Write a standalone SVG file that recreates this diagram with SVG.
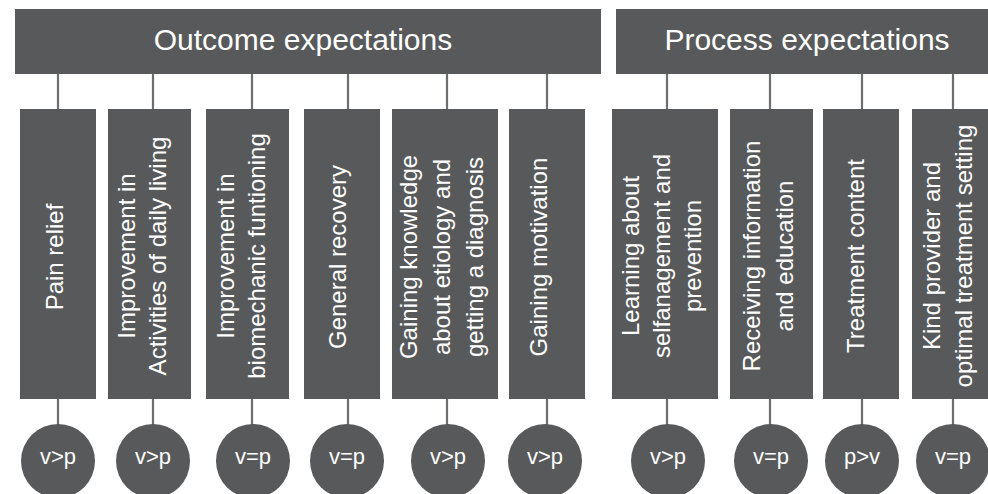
<svg xmlns="http://www.w3.org/2000/svg" width="988" height="494" viewBox="0 0 988 494">
<style>
.box{fill:#58595b}
.ln{stroke:#6d6e71;stroke-width:2.2;fill:none}
.hd{font-family:"Liberation Sans",Arial,sans-serif;font-size:30px;fill:#fff;text-anchor:middle}
.vt{font-family:"Liberation Sans",Arial,sans-serif;font-size:24px;fill:#fff;text-anchor:middle}
.ct{font-family:"Liberation Sans",Arial,sans-serif;font-size:22px;fill:#fff;text-anchor:middle}
</style>
<rect width="988" height="494" fill="#fff"/>
<g id="connectors">
<path class="ln" d="M58 74V109M153 74V109M252 74V109M348 74V109M447 74V109M547 74V109M667 74V109M770 74V109M862 74V109M953 74V109"/>
<path class="ln" d="M58 399V425M153 399V425M252 399V425M348 399V425M447 399V425M547 399V425M667 399V425M770 399V425M862 399V425M953 399V425"/>
</g>
<g id="outcome-header"><rect class="box" x="15" y="9" width="586" height="65"/><text class="hd" x="303" y="50">Outcome expectations</text></g>
<g id="process-header"><rect class="box" x="616" y="9" width="372" height="65"/><text class="hd" x="807" y="50">Process expectations</text></g>

<g id="col-pain"><rect class="box" x="20" y="109" width="76" height="290"/>
<text class="vt" transform="translate(0,257) rotate(-90)"><tspan x="0" y="63">Pain relief</tspan></text></g>
<g id="col-adl"><rect class="box" x="108" y="109" width="83" height="290"/>
<text class="vt" transform="translate(0,256) rotate(-90)"><tspan x="0" y="135">Improvement in</tspan><tspan x="0" y="166">Activities of daily living</tspan></text></g>
<g id="col-biomech"><rect class="box" x="206" y="109" width="83" height="290"/>
<text class="vt" transform="translate(0,256) rotate(-90)"><tspan x="0" y="234">Improvement in</tspan><tspan x="0" y="265">biomechanic funtioning</tspan></text></g>
<g id="col-general"><rect class="box" x="304" y="109" width="76" height="290"/>
<text class="vt" transform="translate(0,257) rotate(-90)"><tspan x="0" y="346">General recovery</tspan></text></g>
<g id="col-knowledge"><rect class="box" x="392" y="109" width="106" height="290"/>
<text class="vt" transform="translate(0,257) rotate(-90)"><tspan x="0" y="417">Gaining knowledge</tspan><tspan x="0" y="450">about etiology and</tspan><tspan x="0" y="483">getting a diagnosis</tspan></text></g>
<g id="col-motivation"><rect class="box" x="509" y="109" width="76" height="290"/>
<text class="vt" transform="translate(0,257) rotate(-90)"><tspan x="0" y="547">Gaining motivation</tspan></text></g>
<g id="col-selfmanagement"><rect class="box" x="612" y="109" width="106" height="290"/>
<text class="vt" transform="translate(0,256) rotate(-90)"><tspan x="0" y="639">Learning about</tspan><tspan x="0" y="670">selfanagement and</tspan><tspan x="0" y="701">prevention</tspan></text></g>
<g id="col-information"><rect class="box" x="730" y="109" width="83" height="290"/>
<text class="vt" transform="translate(0,256) rotate(-90)"><tspan x="0" y="760">Receiving information</tspan><tspan x="0" y="793">and education</tspan></text></g>
<g id="col-content"><rect class="box" x="823" y="109" width="76" height="290"/>
<text class="vt" transform="translate(0,256) rotate(-90)"><tspan x="0" y="864">Treatment content</tspan></text></g>
<g id="col-provider"><rect class="box" x="912" y="109" width="76" height="290"/>
<text class="vt" transform="translate(0,256) rotate(-90)"><tspan x="0" y="940">Kind provider and</tspan><tspan x="0" y="972">optimal treatment setting</tspan></text></g>

<g id="c1"><circle class="box" cx="58" cy="461" r="37"/><text class="ct" x="58" y="464">v&gt;p</text></g>
<g id="c2"><circle class="box" cx="153" cy="461" r="37"/><text class="ct" x="153" y="464">v&gt;p</text></g>
<g id="c3"><circle class="box" cx="253" cy="461" r="37"/><text class="ct" x="253" y="464">v=p</text></g>
<g id="c4"><circle class="box" cx="347" cy="461" r="37"/><text class="ct" x="347" y="464">v=p</text></g>
<g id="c5"><circle class="box" cx="448" cy="461" r="37"/><text class="ct" x="448" y="464">v&gt;p</text></g>
<g id="c6"><circle class="box" cx="545" cy="461" r="37"/><text class="ct" x="545" y="464">v&gt;p</text></g>
<g id="c7"><circle class="box" cx="668" cy="461" r="37"/><text class="ct" x="668" y="464">v&gt;p</text></g>
<g id="c8"><circle class="box" cx="771" cy="461" r="37"/><text class="ct" x="771" y="464">v=p</text></g>
<g id="c9"><circle class="box" cx="862" cy="461" r="37"/><text class="ct" x="862" y="464">p&gt;v</text></g>
<g id="c10"><circle class="box" cx="953" cy="461" r="37"/><text class="ct" x="953" y="464">v=p</text></g>
</svg>
